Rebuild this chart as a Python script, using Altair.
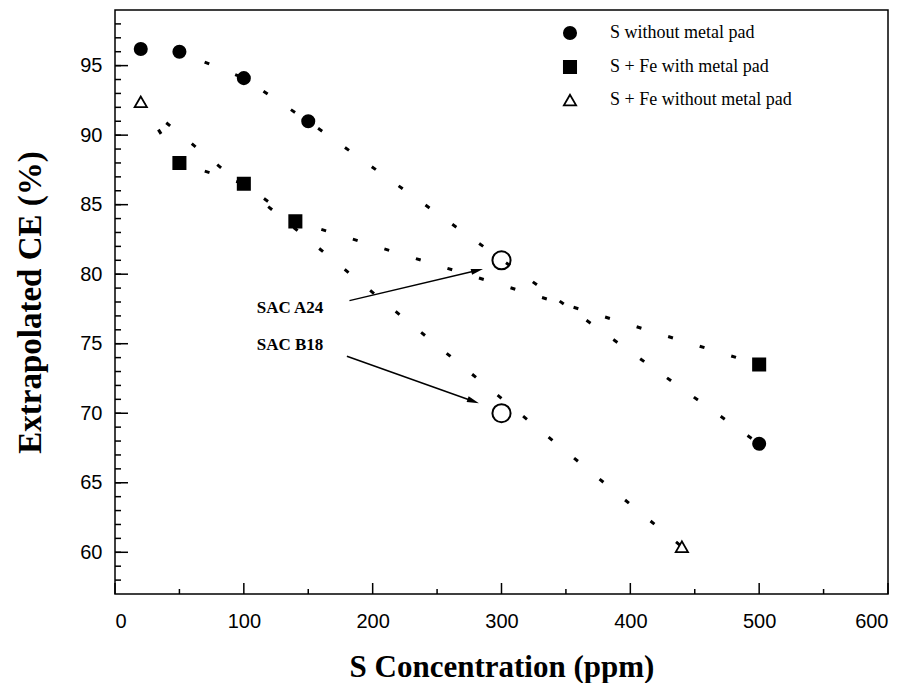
import altair as alt
import pandas as pd

# ---------------- data ----------------
series_names = ["S without metal pad", "S + Fe with metal pad", "S + Fe without metal pad"]

s_nopad_x = [20, 50, 100, 150, 500]
s_nopad_y = [96.2, 96.0, 94.1, 91.0, 67.8]

sfe_pad_line_x = [20, 50, 100, 140, 500]
sfe_pad_line_y = [92.4, 88.0, 86.5, 83.8, 73.5]
sfe_pad_x = [50, 100, 140, 500]
sfe_pad_y = [88.0, 86.5, 83.8, 73.5]

sfe_nopad_x = [20, 440]
sfe_nopad_y = [92.4, 60.4]

sac_x = [300, 300]
sac_y = [81.0, 70.0]
sac_labels = ["SAC A24", "SAC B18"]
sac_label_x = [110, 110]
sac_label_y = [77.6, 74.9]
arrow_x1 = [182, 180]
arrow_y1 = [78.1, 74.1]
arrow_x2 = [280, 277]
arrow_y2 = [80.25, 70.9]
arrow_angle = [76, 110]

x_major = [0, 100, 200, 300, 400, 500, 600]
x_minor = [50, 150, 250, 350, 450, 550]
y_major = [60, 65, 70, 75, 80, 85, 90, 95]
y_minor = list(range(58, 99))

# ---------------- tables ----------------
lines_df = pd.concat([
    pd.DataFrame({"x": s_nopad_x, "y": s_nopad_y, "series": series_names[0]}),
    pd.DataFrame({"x": sfe_pad_line_x, "y": sfe_pad_line_y, "series": series_names[1]}),
    pd.DataFrame({"x": sfe_nopad_x, "y": sfe_nopad_y, "series": series_names[2]}),
])
points_df = pd.concat([
    pd.DataFrame({"x": s_nopad_x, "y": s_nopad_y, "series": series_names[0]}),
    pd.DataFrame({"x": sfe_pad_x, "y": sfe_pad_y, "series": series_names[1]}),
    pd.DataFrame({"x": sfe_nopad_x, "y": sfe_nopad_y, "series": series_names[2]}),
])
sac_df = pd.DataFrame({"x": sac_x, "y": sac_y})
lab_df = pd.DataFrame({"x": sac_label_x, "y": sac_label_y, "t": sac_labels})
arr_df = pd.DataFrame({"x": arrow_x1, "y": arrow_y1, "x2": arrow_x2, "y2": arrow_y2, "ang": arrow_angle})

W, H = 773, 584
xs = alt.Scale(domain=[0, 600], nice=False, zero=False)
ys = alt.Scale(domain=[57, 99], nice=False, zero=False)

x_axis = alt.Axis(values=x_major, title="S Concentration (ppm)", labelPadding=17,
                  titlePadding=21, labelFont="Liberation Sans", labelFontSize=20,
                  titleFont="Liberation Serif", titleFontSize=31, titleFontWeight="bold")
y_axis = alt.Axis(values=y_major, title="Extrapolated CE (%)", labelPadding=13,
                  titlePadding=32, labelFont="Liberation Sans", labelFontSize=20,
                  titleFont="Liberation Serif", titleFontSize=33, titleFontWeight="bold")


def X(field):
    return alt.X(field, scale=xs, axis=x_axis)


def Y(field):
    return alt.Y(field, scale=ys, axis=y_axis)


legend = alt.Legend(title=None, orient="none", legendX=446, legendY=14,
                    labelFont="Liberation Serif", labelFontSize=18, labelLimit=400,
                    labelColor="black", labelOffset=31, rowPadding=14,
                    symbolSize=150, symbolStrokeWidth=1.8, padding=0)

lines = alt.Chart(lines_df).mark_line(
    strokeDash=[5, 28], strokeWidth=3, color="black", strokeCap="butt"
).encode(x=X("x:Q"), y=Y("y:Q"), detail="series:N")

points = alt.Chart(points_df).mark_point(
    filled=True, stroke="black", strokeWidth=1.8, opacity=1, size=150
).encode(
    x=X("x:Q"), y=Y("y:Q"),
    shape=alt.Shape("series:N", sort=series_names,
                    scale=alt.Scale(domain=series_names, range=["circle", "square", "triangle-up"]),
                    legend=legend),
    fill=alt.Fill("series:N", sort=series_names,
                  scale=alt.Scale(domain=series_names, range=["black", "black", "white"]),
                  legend=legend),
)

sac = alt.Chart(sac_df).mark_point(
    shape="circle", filled=False, color="black", strokeWidth=2, size=330, opacity=1
).encode(x=X("x:Q"), y=Y("y:Q"))

labels = alt.Chart(lab_df).mark_text(
    align="left", baseline="middle", font="Liberation Serif", fontWeight="bold",
    fontSize=17, color="black"
).encode(x=X("x:Q"), y=Y("y:Q"), text="t:N")

arrows = alt.Chart(arr_df).mark_rule(color="black", strokeWidth=1.5).encode(
    x=X("x:Q"), y=Y("y:Q"), x2="x2:Q", y2="y2:Q")

heads = alt.Chart(arr_df).mark_point(
    shape="M0,-1L0.4,0.6L-0.4,0.6Z", filled=True, color="black", size=225, opacity=1
).encode(x=X("x2:Q"), y=Y("y2:Q"), angle=alt.Angle("ang:Q", scale=None))

ytm = alt.Chart(pd.DataFrame({"v": y_major})).mark_rule(color="black", strokeWidth=1.5).encode(
    y=Y("v:Q"), x=alt.value(0), x2=alt.value(13))
ytn = alt.Chart(pd.DataFrame({"v": y_minor})).mark_rule(color="black", strokeWidth=1.5).encode(
    y=Y("v:Q"), x=alt.value(0), x2=alt.value(6))
xtm = alt.Chart(pd.DataFrame({"v": x_major})).mark_rule(color="black", strokeWidth=1.5).encode(
    x=X("v:Q"), y=alt.value(H), y2=alt.value(H - 11))
xtn = alt.Chart(pd.DataFrame({"v": x_minor})).mark_rule(color="black", strokeWidth=1.5).encode(
    x=X("v:Q"), y=alt.value(H), y2=alt.value(H - 5))

chart = alt.layer(
    lines, ytm, ytn, xtm, xtn, arrows, heads, labels, sac, points
).properties(
    width=W, height=H,
    autosize=alt.AutoSizeParams(type="none"),
    padding={"left": 107, "top": 2, "right": 14, "bottom": 95},
).configure_view(
    stroke="black", strokeWidth=1.5
).configure_axis(
    domain=False, ticks=False, grid=False, labelColor="black", titleColor="black"
)

chart.save("out.html", embed_options={"renderer": "svg", "actions": False})
